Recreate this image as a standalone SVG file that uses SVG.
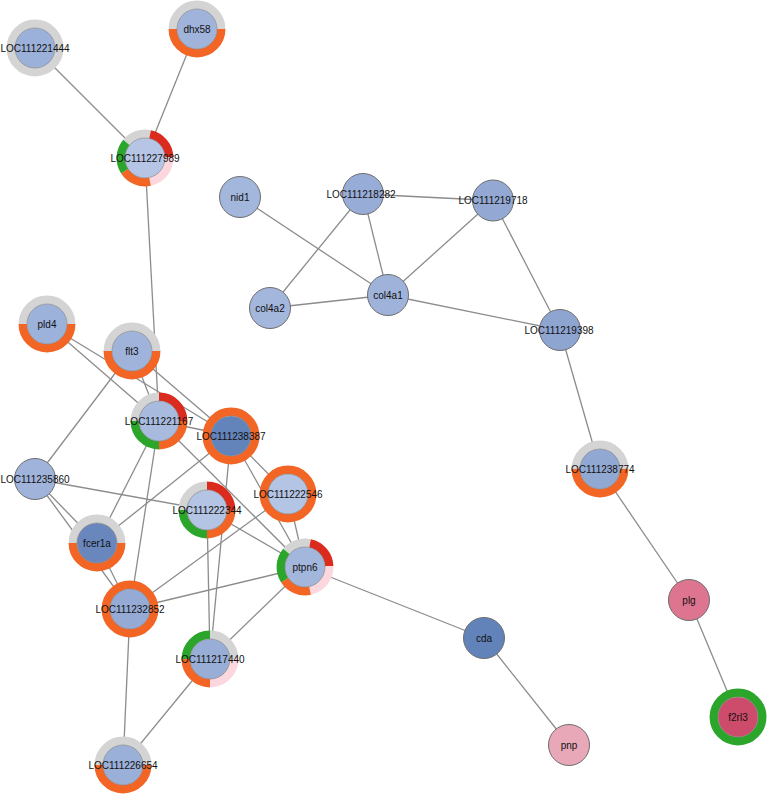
<svg xmlns="http://www.w3.org/2000/svg" xmlns:xlink="http://www.w3.org/1999/xlink" width="767" height="794" viewBox="0 0 767 794">
<style>
.bg{fill:#ffffff}
.edge{stroke:#8c8c8c;stroke-width:1.3;fill:none}
.plain{stroke:#6e6e6e;stroke-width:1}
.inner{stroke:#8a8a8a;stroke-width:0.7}
.seg{fill:none;stroke-width:8.5}
.gray{stroke:#d4d4d4}
.orange{stroke:#f26524}
.red{stroke:#db2a1e}
.green{stroke:#2ca52b}
.pink{stroke:#fdd7de}
.lbl{font-family:"Liberation Sans",Arial,sans-serif;font-size:10px;fill:#111;text-anchor:middle}
</style>
<defs>
<path id="top" d="M-24.2,0 A24.2,24.2 0 0 1 24.2,0"/>
<path id="bot" d="M24.2,0 A24.2,24.2 0 0 1 -24.2,0"/>
<path id="q1" d="M0,-24.2 A24.2,24.2 0 0 1 24.2,0"/>
<path id="q2" d="M24.2,0 A24.2,24.2 0 0 1 0,24.2"/>
<path id="q3" d="M0,24.2 A24.2,24.2 0 0 1 -24.2,0"/>
<path id="q4" d="M-24.2,0 A24.2,24.2 0 0 1 0,-24.2"/>
<path id="s1" d="M-18.54,-15.56 A24.2,24.2 0 0 1 5.03,-23.67"/>
<path id="s2" d="M5.03,-23.67 A24.2,24.2 0 0 1 24.19,-0.84"/>
<path id="s3" d="M24.19,-0.84 A24.2,24.2 0 0 1 5.03,23.67"/>
<path id="s4" d="M5.03,23.67 A24.2,24.2 0 0 1 -20.30,13.18"/>
<path id="s5" d="M-20.30,13.18 A24.2,24.2 0 0 1 -18.54,-15.56"/>
</defs>
<rect class="bg" x="0" y="0" width="767" height="794"/>
<g id="edges">
<line class="edge" x1="35" y1="48" x2="145" y2="158"/>
<line class="edge" x1="197" y1="29" x2="145" y2="158"/>
<line class="edge" x1="145" y1="158" x2="159" y2="421"/>
<line class="edge" x1="240" y1="197" x2="388" y2="295"/>
<line class="edge" x1="363" y1="194" x2="493" y2="200.5"/>
<line class="edge" x1="363" y1="194" x2="388" y2="295"/>
<line class="edge" x1="363" y1="194" x2="270" y2="308"/>
<line class="edge" x1="493" y1="200.5" x2="388" y2="295"/>
<line class="edge" x1="493" y1="200.5" x2="560" y2="330"/>
<line class="edge" x1="270" y1="308" x2="388" y2="295"/>
<line class="edge" x1="388" y1="295" x2="560" y2="330"/>
<line class="edge" x1="560" y1="330" x2="600" y2="469"/>
<line class="edge" x1="600" y1="469" x2="689" y2="600"/>
<line class="edge" x1="689" y1="600" x2="738" y2="717"/>
<line class="edge" x1="305" y1="567" x2="484" y2="638"/>
<line class="edge" x1="484" y1="638" x2="569" y2="745"/>
<line class="edge" x1="47" y1="324" x2="159" y2="421"/>
<line class="edge" x1="47" y1="324" x2="231" y2="436"/>
<line class="edge" x1="132" y1="351" x2="159" y2="421"/>
<line class="edge" x1="132" y1="351" x2="231" y2="436"/>
<line class="edge" x1="132" y1="351" x2="35" y2="479"/>
<line class="edge" x1="159" y1="421" x2="231" y2="436"/>
<line class="edge" x1="159" y1="421" x2="305" y2="567"/>
<line class="edge" x1="159" y1="421" x2="97" y2="543"/>
<line class="edge" x1="159" y1="421" x2="130" y2="609"/>
<line class="edge" x1="231" y1="436" x2="97" y2="543"/>
<line class="edge" x1="231" y1="436" x2="210" y2="659"/>
<line class="edge" x1="231" y1="436" x2="288" y2="494"/>
<line class="edge" x1="231" y1="436" x2="305" y2="567"/>
<line class="edge" x1="288" y1="494" x2="305" y2="567"/>
<line class="edge" x1="288" y1="494" x2="130" y2="609"/>
<line class="edge" x1="35" y1="479" x2="207" y2="510"/>
<line class="edge" x1="207" y1="510" x2="305" y2="567"/>
<line class="edge" x1="207" y1="510" x2="210" y2="659"/>
<line class="edge" x1="35" y1="479" x2="97" y2="543"/>
<line class="edge" x1="35" y1="479" x2="130" y2="609"/>
<line class="edge" x1="97" y1="543" x2="130" y2="609"/>
<line class="edge" x1="130" y1="609" x2="305" y2="567"/>
<line class="edge" x1="130" y1="609" x2="123" y2="765"/>
<line class="edge" x1="210" y1="659" x2="305" y2="567"/>
<line class="edge" x1="210" y1="659" x2="123" y2="765"/>
</g>
<g id="LOC111221444" transform="translate(35,48)">
<circle class="seg gray" r="24.2"/><circle class="inner" r="20" fill="#9cb1d9"/><text class="lbl" y="3.5">LOC111221444</text></g>
<g id="dhx58" transform="translate(197,29)">
<use href="#top" class="seg gray"/><use href="#bot" class="seg orange"/><circle class="inner" r="20" fill="#a0b4db"/><text class="lbl" y="3.5">dhx58</text></g>
<g id="LOC111227989" transform="translate(145,158)">
<use href="#s1" class="seg gray"/><use href="#s2" class="seg red"/><use href="#s3" class="seg pink"/><use href="#s4" class="seg orange"/><use href="#s5" class="seg green"/><circle class="inner" r="20" fill="#b6c5e5"/><text class="lbl" y="3.5">LOC111227989</text></g>
<g id="nid1" transform="translate(240,197)">
<circle class="plain" r="20.5" fill="#a3b6dc"/><text class="lbl" y="3.5">nid1</text></g>
<g id="LOC111218282" transform="translate(363,194)">
<circle class="plain" r="20.5" fill="#97acd6"/><text class="lbl" x="-2" y="3.5">LOC111218282</text></g>
<g id="LOC111219718" transform="translate(493,200.5)">
<circle class="plain" r="20.5" fill="#93a9d4"/><text class="lbl" y="3.5">LOC111219718</text></g>
<g id="col4a2" transform="translate(270,308)">
<circle class="plain" r="20.5" fill="#a3b6dc"/><text class="lbl" y="3.5">col4a2</text></g>
<g id="col4a1" transform="translate(388,295)">
<circle class="plain" r="20.5" fill="#9fb3da"/><text class="lbl" y="3.5">col4a1</text></g>
<g id="LOC111219398" transform="translate(560,330)">
<circle class="plain" r="20.5" fill="#8ea5d2"/><text class="lbl" x="-1" y="4">LOC111219398</text></g>
<g id="pld4" transform="translate(47,324)">
<use href="#top" class="seg gray"/><use href="#bot" class="seg orange"/><circle class="inner" r="20" fill="#9db2da"/><text class="lbl" y="3.5">pld4</text></g>
<g id="flt3" transform="translate(132,351)">
<use href="#top" class="seg gray"/><use href="#bot" class="seg orange"/><circle class="inner" r="20" fill="#a0b4db"/><text class="lbl" y="3.5">flt3</text></g>
<g id="LOC111221167" transform="translate(159,421)">
<use href="#q4" class="seg gray"/><use href="#q1" class="seg red"/><use href="#q2" class="seg orange"/><use href="#q3" class="seg green"/><circle class="inner" r="20" fill="#a8bbdf"/><text class="lbl" y="3.5">LOC111221167</text></g>
<g id="LOC111238387" transform="translate(231,436)">
<circle class="seg orange" r="24.2"/><circle class="inner" r="20" fill="#6384bb"/><text class="lbl" y="3.5">LOC111238387</text></g>
<g id="LOC111235860" transform="translate(35,479)">
<circle class="plain" r="20.5" fill="#a0b4db"/><text class="lbl" y="4">LOC111235860</text></g>
<g id="LOC111222546" transform="translate(288,494)">
<circle class="seg orange" r="24.2"/><circle class="inner" r="20" fill="#b3c4e4"/><text class="lbl" y="3.5">LOC111222546</text></g>
<g id="LOC111222344" transform="translate(207,510)">
<use href="#q4" class="seg gray"/><use href="#q1" class="seg red"/><use href="#q2" class="seg orange"/><use href="#q3" class="seg green"/><circle class="inner" r="20" fill="#b3c4e4"/><text class="lbl" y="4">LOC111222344</text></g>
<g id="fcer1a" transform="translate(97,543)">
<use href="#top" class="seg gray"/><use href="#bot" class="seg orange"/><circle class="inner" r="20" fill="#6987bd"/><text class="lbl" y="3.5">fcer1a</text></g>
<g id="ptpn6" transform="translate(305,567)">
<use href="#s1" class="seg gray"/><use href="#s2" class="seg red"/><use href="#s3" class="seg pink"/><use href="#s4" class="seg orange"/><use href="#s5" class="seg green"/><circle class="inner" r="20" fill="#a3b6dc"/><text class="lbl" y="3.5">ptpn6</text></g>
<g id="LOC111232852" transform="translate(130,609)">
<circle class="seg orange" r="24.2"/><circle class="inner" r="20" fill="#95abd5"/><text class="lbl" y="3.5">LOC111232852</text></g>
<g id="LOC111217440" transform="translate(210,659)">
<use href="#q1" class="seg gray"/><use href="#q2" class="seg pink"/><use href="#q3" class="seg orange"/><use href="#q4" class="seg green"/><circle class="inner" r="20" fill="#98aed6"/><text class="lbl" y="3.5">LOC111217440</text></g>
<g id="LOC111226654" transform="translate(123,765)">
<use href="#top" class="seg gray"/><use href="#bot" class="seg orange"/><circle class="inner" r="20" fill="#9ab0d8"/><text class="lbl" y="3.5">LOC111226654</text></g>
<g id="LOC111238774" transform="translate(600,469)">
<use href="#top" class="seg gray"/><use href="#bot" class="seg orange"/><circle class="inner" r="20" fill="#91a8d3"/><text class="lbl" y="3.5">LOC111238774</text></g>
<g id="plg" transform="translate(689,600)">
<circle class="plain" r="20.5" fill="#dd7590"/><text class="lbl" y="3.5">plg</text></g>
<g id="f2rl3" transform="translate(738,717)">
<circle class="seg green" r="24.2"/><circle class="inner" r="20" fill="#cd4b6b"/><text class="lbl" y="3.5">f2rl3</text></g>
<g id="cda" transform="translate(484,638)">
<circle class="plain" r="20.5" fill="#6283ba"/><text class="lbl" y="3.5">cda</text></g>
<g id="pnp" transform="translate(569,745)">
<circle class="plain" r="20.5" fill="#e8a8b8"/><text class="lbl" y="3.5">pnp</text></g>
</svg>
